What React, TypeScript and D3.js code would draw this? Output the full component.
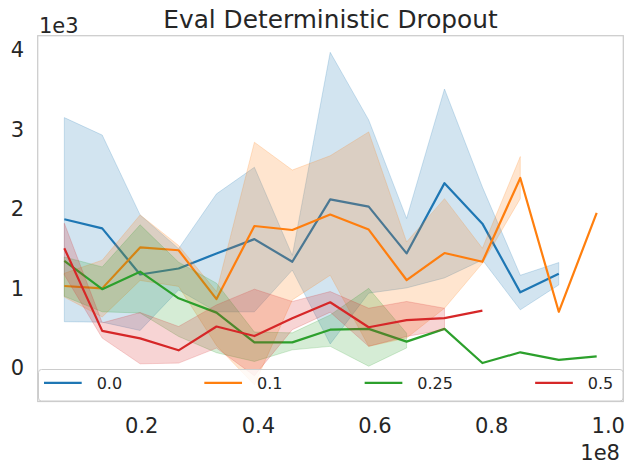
import { useEffect, useRef } from 'react';
import * as d3 from 'd3';

// training steps (x), shared by all runs
const steps = [6.8e6, 13.3e6, 19.8e6, 26.4e6, 32.9e6, 39.4e6, 45.9e6, 52.4e6, 59.0e6, 65.5e6, 72.0e6, 78.5e6, 85.0e6, 91.6e6, 98.1e6];

// dropout 0.0
const mean00 = [1870, 1755, 1175, 1250, 1440, 1620, 1335, 2120, 2030, 1440, 2325, 1815, 950, 1185];
const upper00 = [3150, 2930, 1925, 1500, 2190, 2525, 1415, 3972, 3120, 1880, 3510, 2275, 1165, 1325];
const lower00 = [580, 575, 470, 980, 705, 705, 1230, 300, 940, 1006, 1132, 1358, 730, 1044];

// dropout 0.1
const mean01 = [1030, 1000, 1515, 1480, 865, 1785, 1735, 1930, 1740, 1105, 1445, 1335, 2390, 705, 1950];
const upper01 = [1190, 1355, 1925, 1540, 960, 2840, 2490, 2670, 2970, 1585, 2130, 1505, 2660];
const lower01 = [890, 640, 1100, 1025, 280, -215, 855, 1165, 270, 375, 750, 1315, 2130];

// dropout 0.25
const mean025 = [1345, 990, 1210, 875, 695, 320, 320, 480, 490, 330, 490, 60, 195, 100, 145];
const upper025 = [1395, 1270, 1800, 1330, 1065, 450, 440, 665, 1000, 435];
const lower025 = [900, 705, 690, 395, 190, 80, 226, 270, 20, 250];

// dropout 0.5
const mean05 = [1505, 465, 370, 220, 520, 400, 625, 825, 510, 600, 625, 720];
const upper05 = [1820, 566, 696, 520, 792, 990, 835, 960, 750, 835, 750];
const lower05 = [1170, 374, 50, 59, 248, -100, 480, 700, 270, 395, 480];

const labels = ['0.0', '0.1', '0.25', '0.5'];
const colors = ['#1f77b4', '#ff7f0e', '#2ca02c', '#d62728'];
const xTicks = [0.2e8, 0.4e8, 0.6e8, 0.8e8, 1.0e8];
const yTicks = [0, 1000, 2000, 3000, 4000];

const series = [
  { mean: mean00, upper: upper00, lower: lower00 },
  { mean: mean01, upper: upper01, lower: lower01 },
  { mean: mean025, upper: upper025, lower: lower025 },
  { mean: mean05, upper: upper05, lower: lower05 },
];

const W = 634;
const H = 474;
const FONT = '"DejaVu Sans", sans-serif';
const TEXT = '#262626';

const App = () => {
  const svgRef = useRef<SVGSVGElement | null>(null);

  useEffect(() => {
    if (!svgRef.current) return;
    const svg = d3.select(svgRef.current);
    svg.selectAll('*').remove();

    const margin = { top: 35.7, right: W - 623.3, bottom: H - 401.5, left: 37.7 };
    const innerWidth = W - margin.left - margin.right;
    const innerHeight = H - margin.top - margin.bottom;

    // matplotlib-like 5% margins around the data
    const [x0, x1] = d3.extent(steps) as [number, number];
    const xPad = (x1 - x0) * 0.05;
    const allY = series.flatMap(s => [...s.mean, ...s.upper, ...s.lower]);
    const y0 = d3.min(allY) as number;
    const y1 = d3.max(allY) as number;
    const yPad = (y1 - y0) * 0.05;

    const xScale = d3.scaleLinear().domain([x0 - xPad, x1 + xPad]).range([0, innerWidth]);
    const yScale = d3.scaleLinear().domain([y0 - yPad, y1 + yPad]).range([innerHeight, 0]);

    const g = svg.append('g').attr('transform', `translate(${margin.left},${margin.top})`);

    const line = d3.line<number>()
      .x((_, i) => xScale(steps[i]))
      .y(d => yScale(d));

    const area = d3.area<number>()
      .x((_, i) => xScale(steps[i]));

    series.forEach((s, k) => {
      g.append('path')
        .datum(s.mean)
        .attr('fill', 'none')
        .attr('stroke', colors[k])
        .attr('stroke-width', 2.2)
        .attr('stroke-linejoin', 'round')
        .attr('d', line);

      const bandArea = area
        .y0((_, i) => yScale(s.lower[i]))
        .y1(d => yScale(d));
      g.append('path')
        .datum(s.upper)
        .attr('fill', colors[k])
        .attr('fill-opacity', 0.2)
        .attr('stroke', colors[k])
        .attr('stroke-opacity', 0.2)
        .attr('stroke-width', 1)
        .attr('d', bandArea);
    });

    // spines
    g.append('rect')
      .attr('width', innerWidth)
      .attr('height', innerHeight)
      .attr('fill', 'none')
      .attr('stroke', '#cccccc')
      .attr('stroke-width', 1.25);

    // X axis
    const xAxis = g.append('g')
      .attr('transform', `translate(0,${innerHeight})`)
      .call(d3.axisBottom(xScale).tickValues(xTicks).tickSize(0).tickPadding(16.3)
        .tickFormat(d => ((d as number) / 1e8).toFixed(1)));
    xAxis.select('.domain').remove();
    xAxis.selectAll('text')
      .style('font-family', FONT)
      .style('font-size', '21px')
      .attr('fill', TEXT);

    // Y axis
    const yAxis = g.append('g')
      .call(d3.axisLeft(yScale).tickValues(yTicks).tickSize(0).tickPadding(13.7)
        .tickFormat(d => String((d as number) / 1000)));
    yAxis.select('.domain').remove();
    yAxis.selectAll('text')
      .style('font-family', FONT)
      .style('font-size', '21px')
      .attr('fill', TEXT);

    // offset labels
    svg.append('text')
      .attr('x', 39)
      .attr('y', 33.3)
      .style('font-family', FONT)
      .style('font-size', '21px')
      .attr('fill', TEXT)
      .text('1e3');
    svg.append('text')
      .attr('x', 620)
      .attr('y', 460)
      .attr('text-anchor', 'end')
      .style('font-family', FONT)
      .style('font-size', '21px')
      .attr('fill', TEXT)
      .text('1e8');

    // title
    svg.append('text')
      .attr('x', margin.left + innerWidth / 2)
      .attr('y', 28.3)
      .attr('text-anchor', 'middle')
      .style('font-family', FONT)
      .style('font-size', '24.8px')
      .attr('fill', TEXT)
      .text('Eval Deterministic Dropout');

    // legend, spread across the full width of the axes
    const legend = svg.append('g');
    legend.append('rect')
      .attr('x', 38.5)
      .attr('y', 369.5)
      .attr('width', 623 - 38.5)
      .attr('height', 401 - 369.5)
      .attr('rx', 3)
      .attr('fill', 'white')
      .attr('fill-opacity', 0.8)
      .attr('stroke', '#cccccc')
      .attr('stroke-width', 1);

    const handle = 37.7;
    const handlePad = 15;
    const rowY = 382.8;
    const texts = labels.map(l => legend.append('text')
      .attr('y', rowY)
      .attr('dy', '0.36em')
      .style('font-family', FONT)
      .style('font-size', '16px')
      .attr('fill', TEXT)
      .text(l));
    const widths = texts.map(t => (t.node() as SVGTextElement).getComputedTextLength());
    const left = 44;
    const right = 613.3;
    const used = d3.sum(widths) + labels.length * (handle + handlePad);
    const gap = (right - left - used) / (labels.length - 1);
    let cx = left;
    labels.forEach((_, i) => {
      legend.append('line')
        .attr('x1', cx)
        .attr('x2', cx + handle)
        .attr('y1', rowY)
        .attr('y2', rowY)
        .attr('stroke', colors[i])
        .attr('stroke-width', 2.2);
      texts[i].attr('x', cx + handle + handlePad);
      cx += handle + handlePad + widths[i] + gap;
    });
  }, []);

  return (
    <svg
      ref={svgRef}
      width={W}
      height={H}
      style={{ position: 'absolute', left: 0, top: 0, background: 'white' }}
    />
  );
};

export default App;
